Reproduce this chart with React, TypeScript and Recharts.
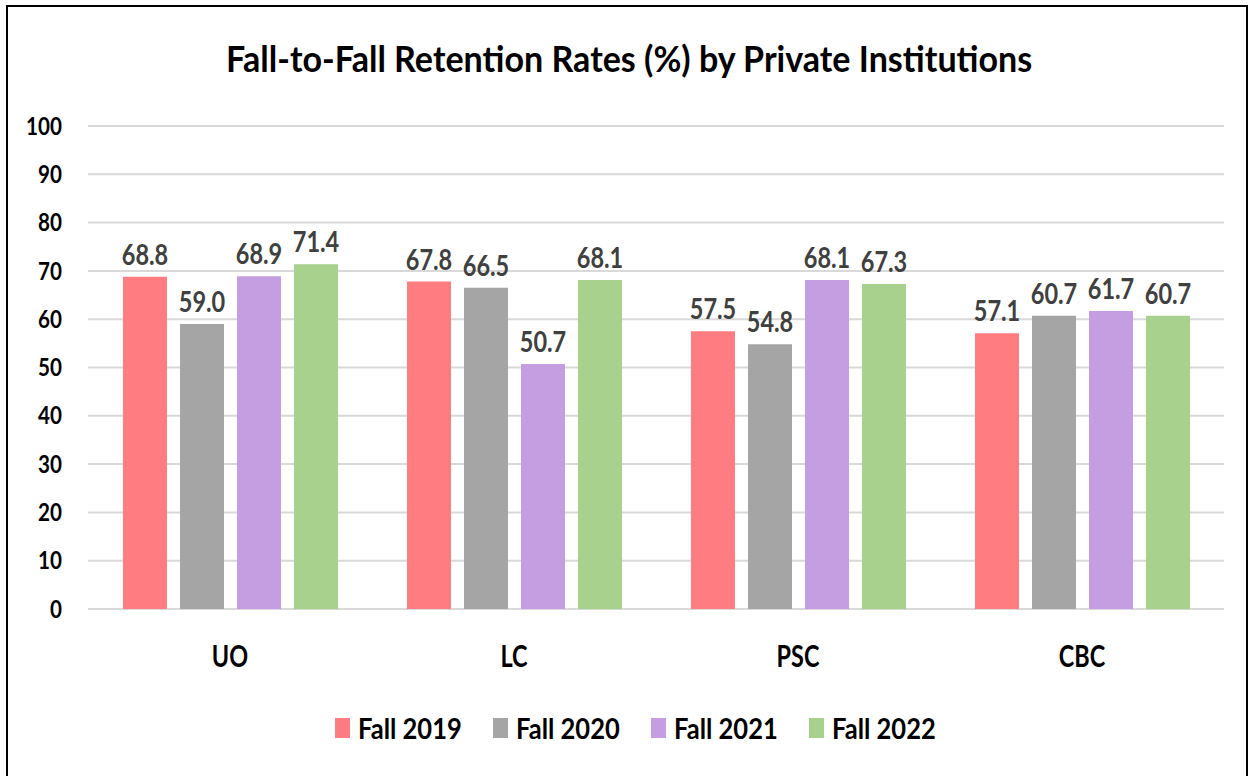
import React from "react";
import { BarChart, Bar, XAxis, YAxis, CartesianGrid, LabelList } from "recharts";

const categories = ["UO", "LC", "PSC", "CBC"];
const fall2019 = [68.8, 67.8, 57.5, 57.1];
const fall2020 = [59.0, 66.5, 54.8, 60.7];
const fall2021 = [68.9, 50.7, 68.1, 61.7];
const fall2022 = [71.4, 68.1, 67.3, 60.7];
const seriesNames = ["Fall 2019", "Fall 2020", "Fall 2021", "Fall 2022"];
const colors = ["#FF7C80", "#A5A5A5", "#C49EE0", "#A9D18E"];
const yTicks = [0, 10, 20, 30, 40, 50, 60, 70, 80, 90, 100];

const data = categories.map((c, i) => ({
  name: c,
  s0: fall2019[i],
  s1: fall2020[i],
  s2: fall2021[i],
  s3: fall2022[i],
}));

const FONT = "Lato, 'Open Sans', sans-serif";
const SX = 0.78;

const YTick = (props: any) => {
  const { x, y, payload } = props;
  return (
    <g transform={`translate(${x},${y})`}>
      <text transform={`scale(0.86,1)`} textAnchor="end" dy="0.36em" fontSize={24} fontWeight="bold" fill="#000" fontFamily={FONT}>
        {payload.value}
      </text>
    </g>
  );
};

const XTick = (props: any) => {
  const { x, y, payload } = props;
  return (
    <g transform={`translate(${x},${y + 47})`}>
      <text transform={`scale(${SX},1)`} textAnchor="middle" dy="0.36em" fontSize={30} fontWeight="bold" fill="#000" fontFamily={FONT}>
        {payload.value}
      </text>
    </g>
  );
};

const ValueLabel = (props: any) => {
  const { x, y, width, value } = props;
  return (
    <g transform={`translate(${x + width / 2},${y - 12})`}>
      <text transform={`scale(0.84,1)`} textAnchor="middle" fontSize={28} fontWeight="bold" fill="#404040" fontFamily={FONT}>
        {Number(value).toFixed(1)}
      </text>
    </g>
  );
};

export default function App() {
  return (
    <div style={{ position: "absolute", left: 0, top: 0, width: 1253, height: 776, background: "#fff", fontFamily: FONT, overflow: "hidden" }}>
      <div
        style={{
          position: "absolute",
          left: 6,
          top: 5,
          width: 1238,
          height: 800,
          border: "2px solid #000",
        }}
      />
      <div
        style={{
          position: "absolute",
          left: 0,
          top: 35,
          width: 1258,
          textAlign: "center",
          lineHeight: "46px",
        }}
      >
        <span
          style={{
            display: "inline-block",
            fontSize: 37,
            fontWeight: "bold",
            color: "#000",
            transform: "scaleX(0.92)",
            transformOrigin: "center",
            whiteSpace: "nowrap",
          }}
        >
          Fall-to-Fall Retention Rates (%) by Private Institutions
        </span>
      </div>
      <div style={{ position: "absolute", left: 0, top: 0 }}>
        <BarChart
          width={1253}
          height={776}
          data={data}
          margin={{ top: 126, right: 29, bottom: 117, left: 28 }}
          barSize={44}
          barGap={13}
        >
          <CartesianGrid vertical={false} stroke="#D9D9D9" strokeWidth={2} />
          <XAxis
            dataKey="name"
            axisLine={false}
            tickLine={false}
            tickSize={0}
            tickMargin={0}
            height={50}
            tick={<XTick />}
          />
          <YAxis
            domain={[0, 100]}
            ticks={yTicks}
            axisLine={false}
            tickLine={false}
            tickSize={0}
            tickMargin={26}
            width={60}
            tick={<YTick />}
          />
          {["s0", "s1", "s2", "s3"].map((k, i) => (
            <Bar key={k} dataKey={k} name={seriesNames[i]} fill={colors[i]} isAnimationActive={false}>
              <LabelList dataKey={k} content={<ValueLabel />} />
            </Bar>
          ))}
        </BarChart>
      </div>
      <div
        style={{
          position: "absolute",
          left: 0,
          top: 713,
          width: 1270,
          display: "flex",
          justifyContent: "center",
          gap: 31,
        }}
      >
        {seriesNames.map((n, i) => (
          <div key={n} style={{ display: "flex", alignItems: "center", gap: 8 }}>
            <div style={{ width: 15, height: 20, background: colors[i] }} />
            <div style={{ width: 104, height: 30, position: "relative" }}>
              <span
                style={{
                  position: "absolute",
                  left: 0,
                  top: 0,
                  fontSize: 29,
                  fontWeight: "bold",
                  color: "#000",
                  lineHeight: "30px",
                  whiteSpace: "nowrap",
                  transform: "scaleX(0.88)",
                  transformOrigin: "left center",
                }}
              >
                {n}
              </span>
            </div>
          </div>
        ))}
      </div>
    </div>
  );
}
